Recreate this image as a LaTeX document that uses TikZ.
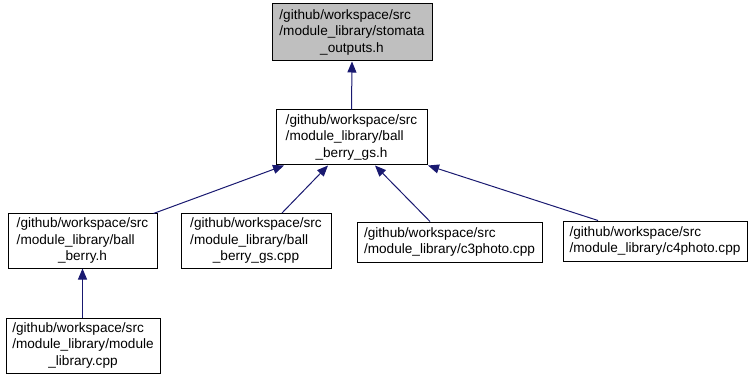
\documentclass[tikz,border=0pt]{standalone}
\usepackage{fontspec}
\setmainfont{Liberation Sans}
\usetikzlibrary{arrows.meta}
\definecolor{edgeblue}{HTML}{191970}
\definecolor{rootgray}{HTML}{BFBFBF}
\newcommand{\filelabel}[3]{\begin{tabular}{@{}l@{}}#1\\#2\\\multicolumn{1}{@{}c@{}}{#3}\end{tabular}}
\begin{document}
\begin{tikzpicture}[x=1pt,y=-1pt,
  file/.style={draw,line width=1pt,inner sep=0pt,align=left,
    font=\fontsize{13.6}{16.6}\selectfont},
  dep/.style={edgeblue,line width=1pt,-{Triangle[length=11pt,width=9pt]}}]
\useasboundingbox (0,0) rectangle (751,379);

\node[file,fill=rootgray,minimum width=160,minimum height=57] (top) at (352,32.5)
  {\filelabel{/github/workspace/src}{/module\_library/stomata}{\_outputs.h}};
\node[file,minimum width=151,minimum height=55] (mid) at (351.5,137.5)
  {\filelabel{/github/workspace/src}{/module\_library/ball}{\_berry\_gs.h}};

\node[file,minimum width=149,minimum height=54] (ballberry) at (82.5,241)
  {\filelabel{/github/workspace/src}{/module\_library/ball}{\_berry.h}};
\node[file,minimum width=150,minimum height=55] (ballgs) at (256,241)
  {\filelabel{/github/workspace/src}{/module\_library/ball}{\_berry\_gs.cpp}};
\node[file,minimum width=185,minimum height=40] (cthree) at (449.5,242)
  {/github/workspace/src\\/module\_library/c3photo.cpp};
\node[file,minimum width=184,minimum height=40] (cfour) at (655,241)
  {/github/workspace/src\\/module\_library/c4photo.cpp};

\node[file,minimum width=154,minimum height=55] (modlib) at (83,345.5)
  {\filelabel{/github/workspace/src}{/module\_library/module}{\_library.cpp}};

\draw[dep] (mid.north) -- (top.south);
\draw[dep] ([xshift=-4pt]ballberry.north east) -- ([xshift=-67.5pt]mid.south);
\draw[dep] ([xshift=26pt]ballgs.north) -- ([xshift=-23.5pt]mid.south);
\draw[dep] ([xshift=-19.5pt]cthree.north) -- ([xshift=23.5pt]mid.south);
\draw[dep] ([xshift=-57pt]cfour.north) -- ([xshift=76.5pt]mid.south);
\draw[dep] (modlib.north -| ballberry.south) -- (ballberry.south);
\end{tikzpicture}
\end{document}
